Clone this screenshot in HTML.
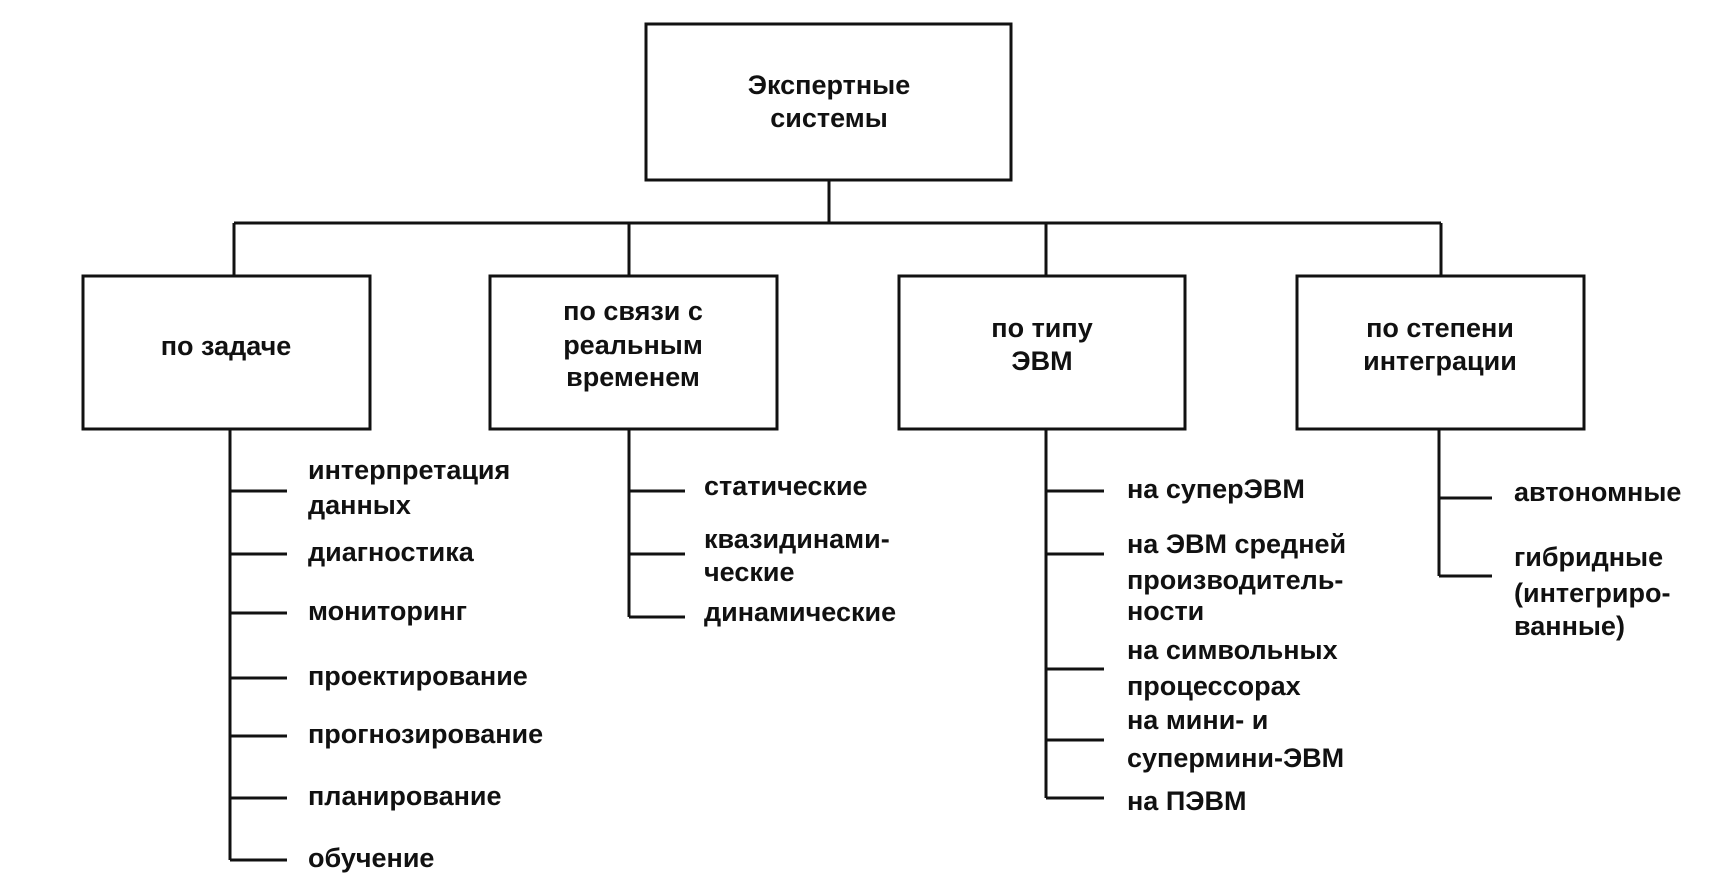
<!DOCTYPE html>
<html><head><meta charset="utf-8"><style>
html,body{margin:0;padding:0;background:#fff;}
svg{display:block;}
text{font-family:"Liberation Sans",Arial,sans-serif;font-size:27px;font-weight:bold;fill:#111;dominant-baseline:middle;}
.c{text-anchor:middle;}
</style></head><body>
<svg width="1725" height="892" viewBox="0 0 1725 892">
<g fill="none" stroke="#111" stroke-width="3">
<rect x="646" y="24" width="365" height="156"/>
<rect x="83" y="276" width="287" height="153"/>
<rect x="490" y="276" width="287" height="153"/>
<rect x="899" y="276" width="286" height="153"/>
<rect x="1297" y="276" width="287" height="153"/>
<path d="M829 180V223M234 223H1441M234 223V276M629 223V276M1046 223V276M1441 223V276"/>
<path d="M230 429V860M230 491H287M230 554H287M230 613H287M230 678H287M230 736H287M230 798H287M230 860H287"/>
<path d="M629 429V617M629 491H685M629 554H685M629 617H685"/>
<path d="M1046 429V798M1046 491H1104M1046 554H1104M1046 669H1104M1046 740H1104M1046 798H1104"/>
<path d="M1439 429V576M1439 498H1492M1439 576H1492"/>
</g>
<text class="c" x="829" y="87">Экспертные</text>
<text class="c" x="829" y="120">системы</text>
<text class="c" x="226" y="348">по задаче</text>
<text class="c" x="633" y="313">по связи с</text>
<text class="c" x="633" y="347">реальным</text>
<text class="c" x="633" y="379">временем</text>
<text class="c" x="1042" y="330">по типу</text>
<text class="c" x="1042" y="363">ЭВМ</text>
<text class="c" x="1440" y="330">по степени</text>
<text class="c" x="1440" y="363">интеграции</text>
<text x="308" y="472">интерпретация</text>
<text x="308" y="507">данных</text>
<text x="308" y="554">диагностика</text>
<text x="308" y="613">мониторинг</text>
<text x="308" y="678">проектирование</text>
<text x="308" y="736">прогнозирование</text>
<text x="308" y="798">планирование</text>
<text x="308" y="860">обучение</text>
<text x="704" y="488">статические</text>
<text x="704" y="541">квазидинами-</text>
<text x="704" y="574">ческие</text>
<text x="704" y="614">динамические</text>
<text x="1127" y="491">на суперЭВМ</text>
<text x="1127" y="546">на ЭВМ средней</text>
<text x="1127" y="582">производитель-</text>
<text x="1127" y="613">ности</text>
<text x="1127" y="652">на символьных</text>
<text x="1127" y="688">процессорах</text>
<text x="1127" y="722">на мини- и</text>
<text x="1127" y="760">супермини-ЭВМ</text>
<text x="1127" y="803">на ПЭВМ</text>
<text x="1514" y="494">автономные</text>
<text x="1514" y="559">гибридные</text>
<text x="1514" y="595">(интегриро-</text>
<text x="1514" y="628">ванные)</text>
</svg>
</body></html>
